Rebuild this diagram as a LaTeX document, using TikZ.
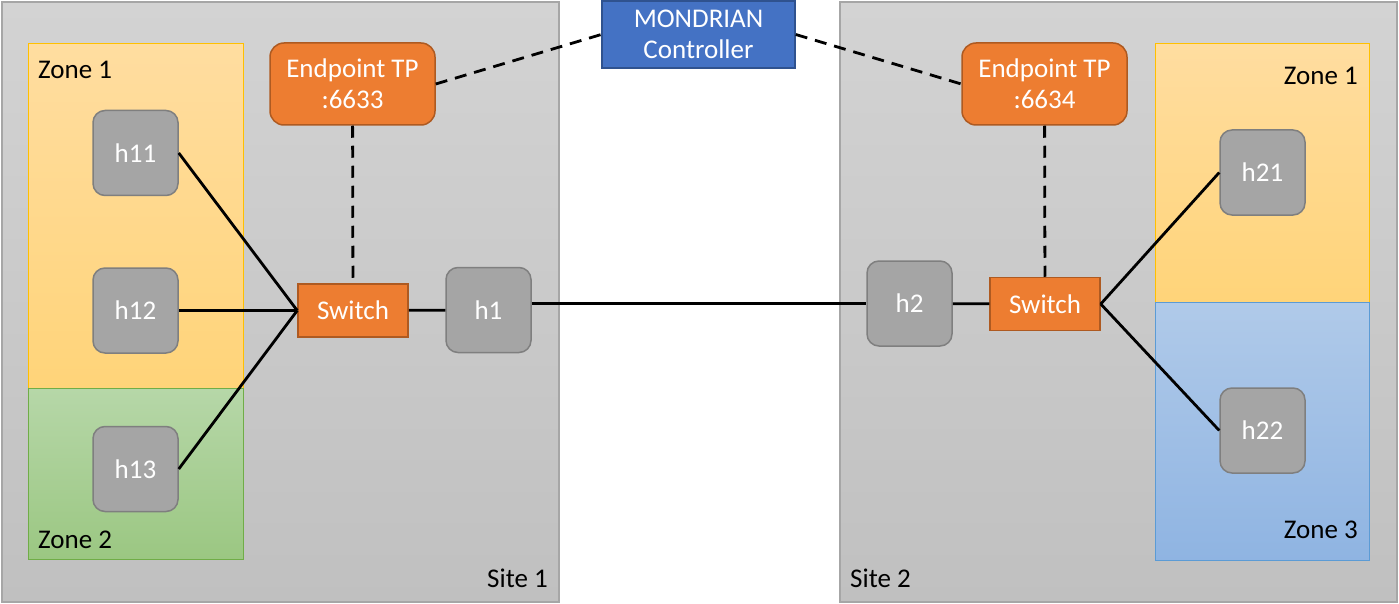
\documentclass[tikz,border=0pt]{standalone}
\usepackage{fontspec}
\setmainfont{Carlito}
\usetikzlibrary{calc,positioning}
\definecolor{sitetop}{HTML}{D3D3D3}
\definecolor{sitebot}{HTML}{C0C0C0}
\definecolor{siteline}{HTML}{A6A6A6}
\definecolor{zonatop}{HTML}{FFDDA0}
\definecolor{zonabot}{HTML}{FFD479}
\definecolor{zonaline}{HTML}{FFC000}
\definecolor{verdetop}{HTML}{B6D7A8}
\definecolor{verdebot}{HTML}{9BC782}
\definecolor{verdeline}{HTML}{70AD47}
\definecolor{azultop}{HTML}{B0CAE9}
\definecolor{azulbot}{HTML}{8FB4E2}
\definecolor{azulline}{HTML}{5B9BD5}
\definecolor{hostgris}{HTML}{A5A5A5}
\definecolor{hostline}{HTML}{7F7F7F}
\definecolor{naranja}{HTML}{ED7D31}
\definecolor{naranjaline}{HTML}{AE5A21}
\definecolor{mondrian}{HTML}{4472C4}
\definecolor{mondrianline}{HTML}{2F528F}

\tikzset{
  host/.style={draw=hostline,line width=1.5pt,fill=hostgris,rounded corners=12pt,
    minimum width=85pt,minimum height=85pt,text=white,inner sep=0pt},
  switchbox/.style={draw=naranjaline,line width=1.5pt,fill=naranja,
    minimum width=110pt,minimum height=53pt,text=white,inner sep=0pt},
  tpbox/.style={draw=naranjaline,line width=1.5pt,fill=naranja,rounded corners=14pt,
    minimum width=165pt,minimum height=82pt,text=white,align=center,inner sep=0pt},
  ctrlbox/.style={draw=mondrianline,line width=1.5pt,fill=mondrian,
    minimum width=193pt,minimum height=67pt,text=white,align=center,inner sep=0pt},
  link/.style={black,line width=2.8pt},
  ctrl/.style={black,line width=2.8pt,dash pattern=on 12pt off 8pt},
  label/.style={inner sep=0pt,text=black}
}

\begin{document}
\begin{tikzpicture}[x=1pt,y=-1pt,font=\fontsize{27}{31}\selectfont]
  \useasboundingbox (0,0) rectangle (1399,604);
  % sitios
  \draw[siteline,line width=1.5pt,top color=sitetop,bottom color=sitebot] (2,2) rectangle (559,602);
  \draw[siteline,line width=1.5pt,top color=sitetop,bottom color=sitebot] (840,2) rectangle (1397,602);
  \node[label,anchor=east] at (548,578) {Site 1};
  \node[label,anchor=west] at (850,578) {Site 2};
  % zonas sitio 1
  \draw[zonaline,line width=1pt,top color=zonatop,bottom color=zonabot] (28,44) rectangle (243,388);
  \draw[verdeline,line width=1pt,top color=verdetop,bottom color=verdebot] (28,388) rectangle (243,559);
  \node[label,anchor=west] at (38,70) {Zone 1};
  \node[label,anchor=west] at (38,540) {Zone 2};
  % zonas sitio 2
  \draw[zonaline,line width=1pt,top color=zonatop,bottom color=zonabot] (1155,44) rectangle (1369,302);
  \draw[azulline,line width=1pt,top color=azultop,bottom color=azulbot] (1155,302) rectangle (1369,560);
  \node[label,anchor=east] at (1358,76) {Zone 1};
  \node[label,anchor=east] at (1358,530) {Zone 3};
  % nodos
  \node[ctrlbox] (ctrl) at (698.5,34.5) {MONDRIAN\\Controller};
  \node[tpbox] (tp1) at (352.5,84) {Endpoint TP\\:6633};
  \node[tpbox] (tp2) at (1044.5,84) {Endpoint TP\\:6634};
  \node[switchbox] (sw1) at (353,310.5) {Switch};
  \node[switchbox] (sw2) at (1045,304) {Switch};
  \node[host] (h1) at (488.5,310) {h1};
  \node[host] (h2) at (909.5,303.5) {h2};
  \node[host] (h11) at (135.5,153) {h11};
  \node[host] (h12) at (135.5,310.5) {h12};
  \node[host] (h13) at (135.5,469) {h13};
  \node[host] (h21) at (1262.5,172.5) {h21};
  \node[host] (h22) at (1262.5,430.5) {h22};
  % enlaces
  \foreach \h in {h11,h12,h13}{ \draw[link] (\h.east) -- (sw1.west); }
  \foreach \h in {h21,h22}{ \draw[link] (sw2.east) -- (\h.west); }
  \draw[link] (sw1) -- (h1);
  \draw[link] (h1.east |- h2.west) -- (h2.west);
  \draw[link] (h2) -- (sw2);
  % control
  \draw[ctrl] (tp1.east) -- (ctrl.west);
  \draw[ctrl] (ctrl.east) -- (tp2.west);
  \draw[ctrl] (tp1) -- (sw1);
  \draw[ctrl] (tp2) -- (sw2);
\end{tikzpicture}
\end{document}
